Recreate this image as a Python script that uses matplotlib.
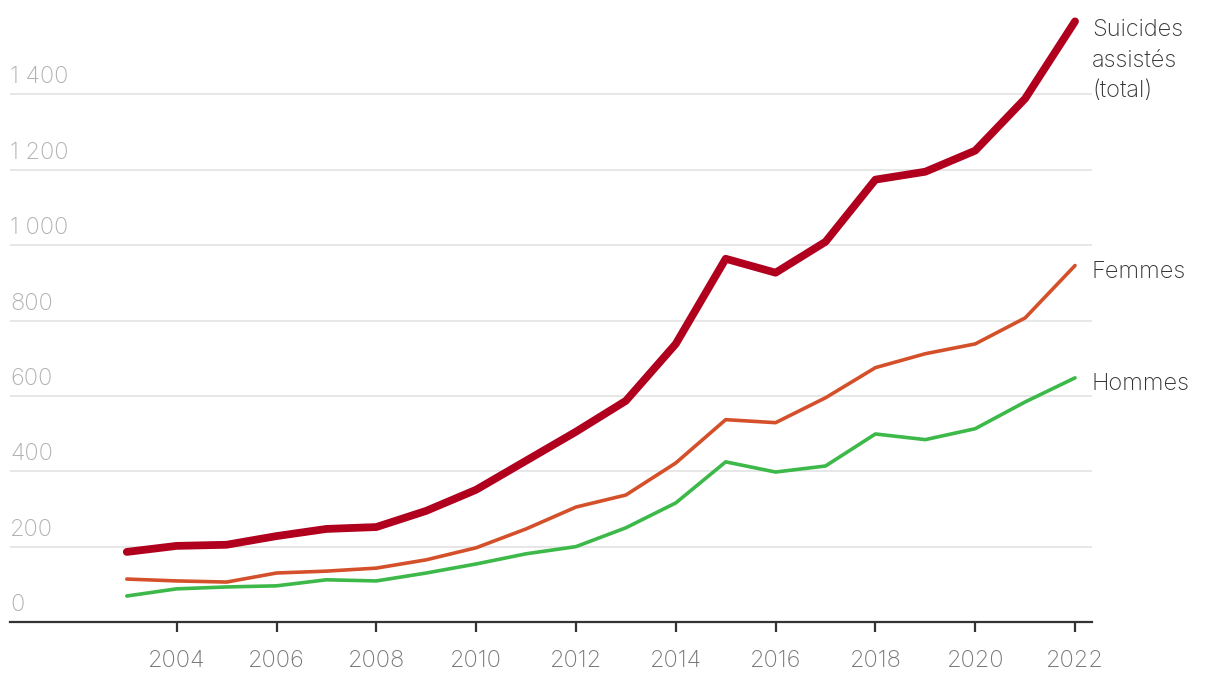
import matplotlib
matplotlib.use("Agg")
import matplotlib.pyplot as plt
from matplotlib.transforms import offset_copy

years = list(range(2003, 2023))
total = [186, 202, 205, 228, 247, 252, 295, 351, 428, 505, 587, 738, 964, 927, 1009, 1174, 1195, 1251, 1389, 1594]
femmes = [114, 109, 106, 130, 135, 143, 165, 197, 247, 305, 337, 422, 537, 529, 595, 675, 712, 738, 807, 946]
hommes = [69, 88, 93, 96, 112, 109, 130, 154, 181, 200, 250, 316, 425, 398, 414, 499, 484, 513, 584, 648]
yticks = [0, 200, 400, 600, 800, 1000, 1200, 1400]
ytick_labels = ["0", "200", "400", "600", "800", "1 000", "1 200", "1 400"]
xticks = [2004, 2006, 2008, 2010, 2012, 2014, 2016, 2018, 2020, 2022]
series_labels = ["Suicides\nassistés\n(total)", "Femmes", "Hommes"]

plt.rcParams['font.family'] = ['Inter', 'DejaVu Sans']
FW = "light"
FS = 17

W, H = 1220, 684
fig = plt.figure(figsize=(W / 100, H / 100), dpi=100)
left, right, bottom = 10, 1092, 622
ax = fig.add_axes([left / W, (H - bottom) / H, (right - left) / W, bottom / H])
ax.set_xlim(2000.66, 2022.34)
ax.set_ylim(0, 622 / 0.3768)

for s in ["top", "right", "left"]:
    ax.spines[s].set_visible(False)
ax.spines["bottom"].set_color("#333333")
ax.spines["bottom"].set_linewidth(1.6)

for v, lab in zip(yticks, ytick_labels):
    if v > 0:
        ax.axhline(v, color="#e3e3e3", lw=1.2, zorder=0)
    t = offset_copy(ax.get_yaxis_transform(), fig=fig, x=0, y=17, units="dots")
    ax.text(0, v, lab, transform=t, ha="left", va="center", fontsize=FS,
            color="#b0b0b0", fontweight=FW)
ax.set_yticks([])

ax.set_xticks(xticks)
ax.set_xticklabels([str(x) for x in xticks])
ax.tick_params(axis="x", direction="out", length=7, width=1.6, color="#333333",
               labelsize=FS, labelcolor="#777777", pad=13)
for lbl in ax.get_xticklabels():
    lbl.set_fontweight(FW)

ax.plot(years, hommes, color="#3db94a", lw=2.6, solid_capstyle="round", solid_joinstyle="round", zorder=3)
ax.plot(years, femmes, color="#d4502a", lw=2.6, solid_capstyle="round", solid_joinstyle="round", zorder=3)
ax.plot(years, total, color="#b0001e", lw=5.6, solid_capstyle="round", solid_joinstyle="round", zorder=4)

ax.text(1092 / W, 1 - 19 / H, series_labels[0], transform=fig.transFigure, ha="left", va="top",
        fontsize=FS, color="#333333", linespacing=1.5, fontweight=FW)
ax.text(1092 / W, 1 - 272 / H, series_labels[1], transform=fig.transFigure, ha="left", va="center",
        fontsize=FS, color="#333333", fontweight=FW)
ax.text(1092 / W, 1 - 384 / H, series_labels[2], transform=fig.transFigure, ha="left", va="center",
        fontsize=FS, color="#333333", fontweight=FW)

fig.savefig("out.png", dpi=100)
